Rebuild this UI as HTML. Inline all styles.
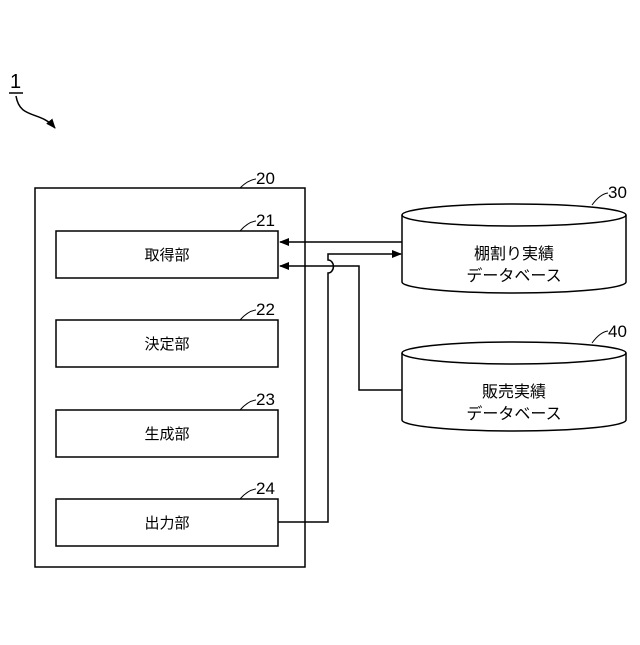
<!DOCTYPE html>
<html><head><meta charset="utf-8"><style>body{margin:0;background:#fff}</style></head><body>
<svg width="640" height="640" viewBox="0 0 640 640" xmlns="http://www.w3.org/2000/svg" font-family="'Liberation Sans','Noto Sans CJK JP',sans-serif" fill="none" stroke="#000" stroke-width="1.5">
<defs><marker id="a" markerWidth="10" markerHeight="8" refX="9" refY="4" orient="auto" markerUnits="userSpaceOnUse"><path d="M0,0 L10,4 L0,8 z" fill="#000" stroke="none"/></marker></defs>
<text x="10" y="88" font-size="20" fill="#000" stroke="none">1</text>
<line x1="9" y1="93" x2="23" y2="93"/>
<path d="M16,96 C20,120 40,110 55,128" marker-end="url(#a)"/>
<rect x="35" y="188" width="270" height="379"/>
<text x="256" y="184" font-size="17" fill="#000" stroke="none">20</text>
<path d="M240,188 Q248,180 256,179" stroke-width="1"/>
<rect x="56" y="231" width="222" height="47"/>
<rect x="56" y="320" width="222" height="47"/>
<rect x="56" y="410" width="222" height="47"/>
<rect x="56" y="499" width="222" height="47"/>
<g font-size="15" fill="#000" stroke="none" text-anchor="middle">
<text x="167" y="260">取得部</text>
<text x="167" y="349">決定部</text>
<text x="167" y="439">生成部</text>
<text x="167" y="528">出力部</text>
</g>
<g font-size="17" fill="#000" stroke="none">
<text x="256" y="226">21</text><text x="256" y="315">22</text><text x="256" y="405">23</text><text x="256" y="494">24</text>
<text x="608" y="198">30</text><text x="608" y="337">40</text>
</g>
<g stroke-width="1">
<path d="M240,231 Q248,222 256,221"/><path d="M240,320 Q248,311 256,310"/><path d="M240,410 Q248,401 256,400"/><path d="M240,499 Q248,490 256,489"/>
<path d="M592,205 Q600,194 608,193"/><path d="M592,343 Q600,332 608,331"/>
</g>
<path d="M402,215 V282 A112,11 0 0 0 626,282 V215"/><ellipse cx="514" cy="215" rx="112" ry="11"/>
<path d="M402,353 V420 A112,11 0 0 0 626,420 V353"/><ellipse cx="514" cy="353" rx="112" ry="11"/>
<g font-size="16" fill="#000" stroke="none" text-anchor="middle">
<text x="514" y="259">棚割り実績</text><text x="514" y="281">データベース</text>
<text x="514" y="397">販売実績</text><text x="514" y="419">データベース</text>
</g>
<line x1="402" y1="242" x2="280" y2="242" marker-end="url(#a)"/>
<path d="M402,390 H359 V266 H280" marker-end="url(#a)"/>
<path d="M278,522 H328 V273 A5,6 0 0 0 328,260 V254 H401" marker-end="url(#a)"/>
</svg>
</body></html>
